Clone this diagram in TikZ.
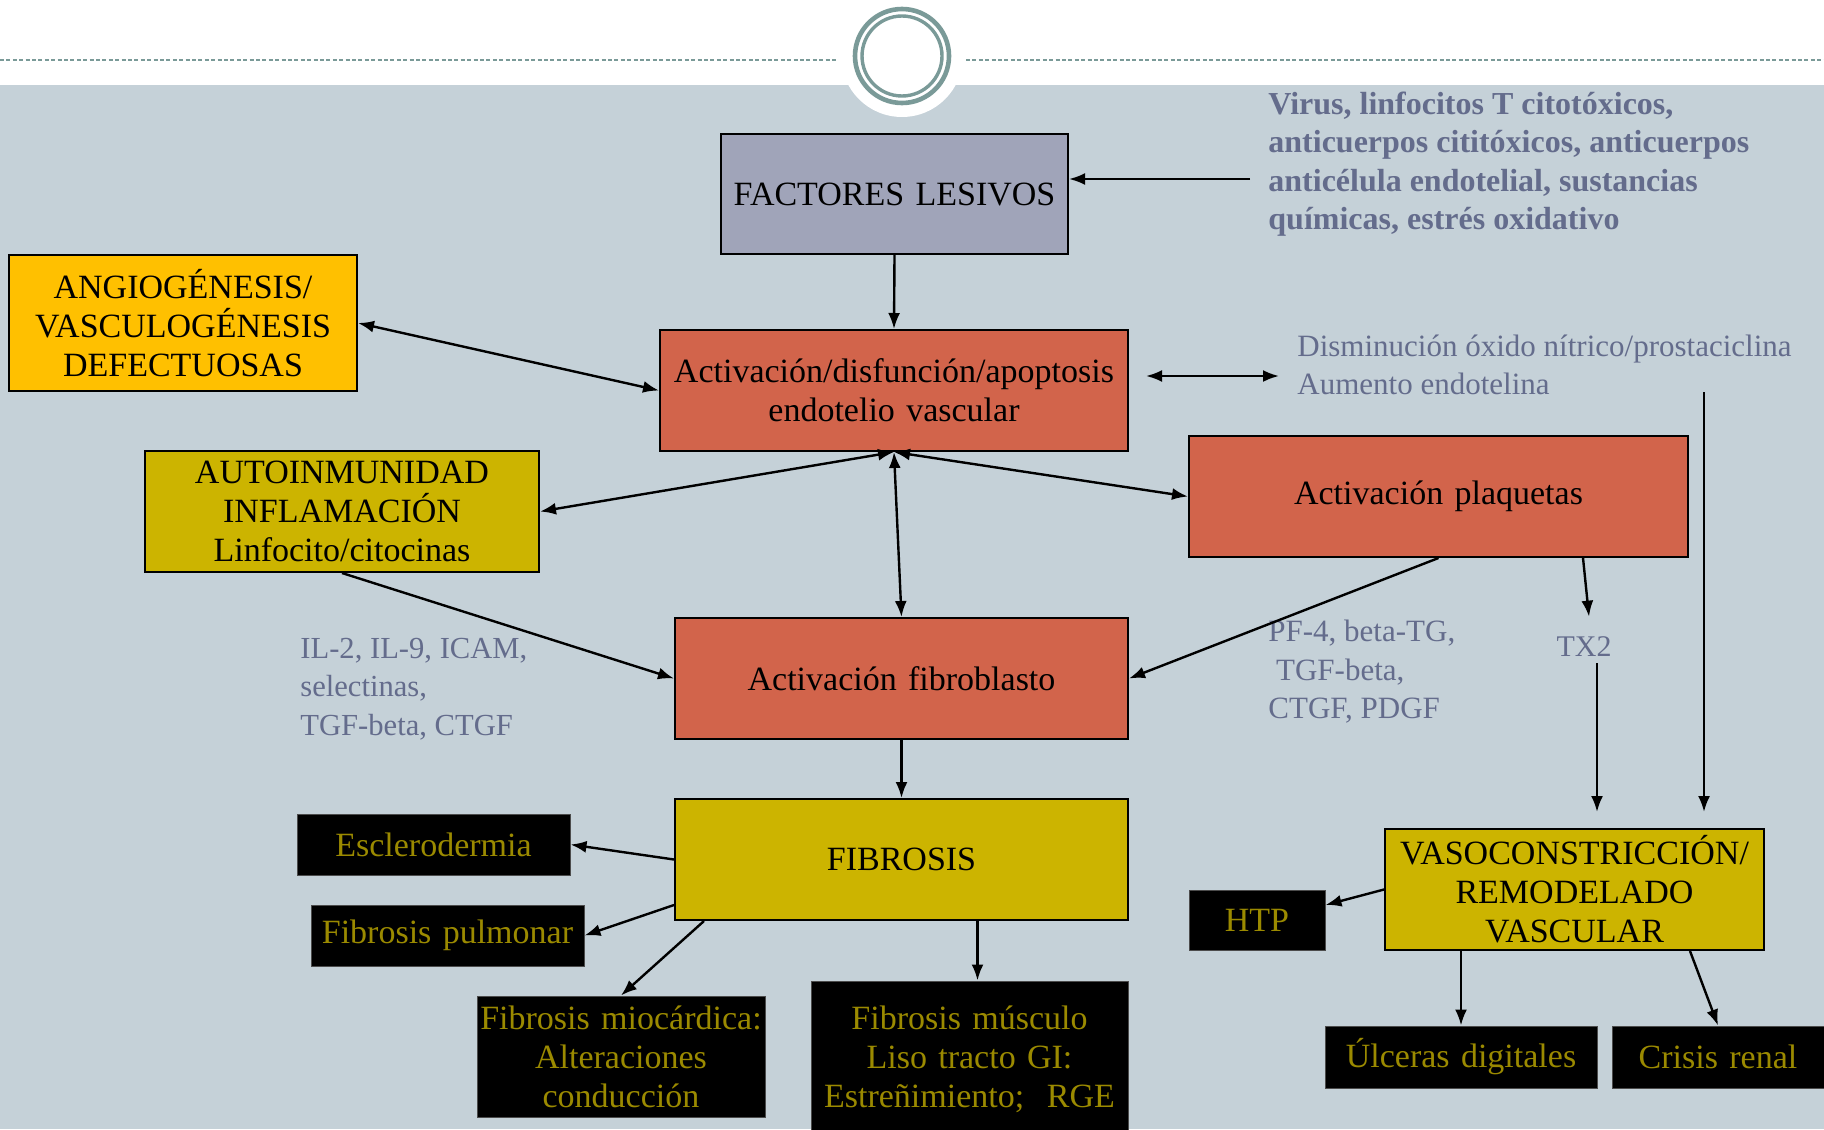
\documentclass[tikz,border=0pt]{standalone}
\usepackage{fontspec}
\setmainfont{Liberation Serif}
\usetikzlibrary{arrows.meta,calc}
\definecolor{bgc}{RGB}{197,209,216}
\definecolor{ringc}{RGB}{122,154,152}
\definecolor{lavc}{RGB}{160,164,185}
\definecolor{orgc}{RGB}{255,192,0}
\definecolor{redc}{RGB}{210,100,75}
\definecolor{olvc}{RGB}{204,180,0}
\definecolor{goldtxt}{RGB}{155,138,0}
\definecolor{greytxt}{RGB}{100,108,140}
\tikzset{
  bbox/.style={draw=black, line width=1pt, inner sep=0pt, align=center, font=\fontsize{17}{19.5}\selectfont},
  dbox/.style={fill=black, draw=black!70, line width=0.5pt, inner sep=0pt, align=center, text=goldtxt, font=\fontsize{17}{19.5}\selectfont},
  gtext/.style={text=greytxt, align=left, inner sep=0pt},
  arr/.style={-{Latex[length=8pt,width=6pt]}, line width=1.2pt},
  arrtwo/.style={{Latex[length=8pt,width=6pt]}-{Latex[length=8pt,width=6pt]}, line width=1.2pt}
}
\begin{document}
\begin{tikzpicture}[x=0.5pt,y=-0.5pt]
\useasboundingbox (0,0) rectangle (1824,1129);
% header and background
\fill[white] (0,0) rectangle (1824,85);
\fill[bgc] (0,85) rectangle (1824,1129);
\fill[white] (902,56) circle[radius=61];
\draw[ringc, line width=1pt, dash pattern=on 2pt off 1.2pt] (0,60) -- (838,60);
\draw[ringc, line width=1pt, dash pattern=on 2pt off 1.2pt] (966,60) -- (1824,60);
\draw[ringc, line width=2.3pt] (902,56) circle[radius=47];
\draw[ringc, line width=1.7pt] (902,56) circle[radius=40];

% boxes
\node[bbox, fill=lavc, minimum width=173.5pt, minimum height=60pt, text width=173.5pt] (fact) at (894.5,194) {FACTORES LESIVOS};
\node[bbox, fill=orgc, minimum width=174pt, minimum height=68pt, text width=174pt] (angio) at (183,323) {ANGIOGÉNESIS/\\VASCULOGÉNESIS\\DEFECTUOSAS};
\node[bbox, fill=redc, minimum width=234pt, minimum height=60.5pt, text width=234pt] (act) at (894,390.5) {Activación/disfunción/apoptosis\\endotelio vascular};
\node[bbox, fill=olvc, minimum width=197pt, minimum height=60.5pt, text width=197pt] (auto) at (342,511.5) {AUTOINMUNIDAD\\INFLAMACIÓN\\Linfocito/citocinas};
\node[bbox, fill=redc, minimum width=249.5pt, minimum height=60.5pt, text width=249.5pt] (plaq) at (1438.5,496.5) {Activación plaquetas};
\node[bbox, fill=redc, minimum width=226.5pt, minimum height=60.5pt, text width=226.5pt] (fibro) at (901.5,678.5) {Activación fibroblasto};
\node[bbox, fill=olvc, minimum width=226.5pt, minimum height=60.5pt, text width=226.5pt] (fibrosis) at (901.5,859.5) {FIBROSIS};
\node[bbox, fill=olvc, minimum width=189.5pt, minimum height=60.5pt, text width=189.5pt] (vaso) at (1574.5,889.5) {VASOCONSTRICCIÓN/\\REMODELADO\\VASCULAR};

\node[dbox, minimum width=136.5pt, minimum height=30.5pt, text width=136.5pt] (escl) at (433.5,844.5) {Esclerodermia};
\node[dbox, minimum width=136.5pt, minimum height=30.5pt, text width=136.5pt] (pulm) at (447.5,935.5) {Fibrosis pulmonar};
\node[dbox, minimum width=144pt, minimum height=60.5pt, text width=144pt] (mioc) at (621,1056.5) {Fibrosis miocárdica:\\Alteraciones\\conducción};
\node[dbox, minimum width=158.5pt, minimum height=78pt, text width=158.5pt] (musc) at (969.5,1059) {Fibrosis músculo\\Liso tracto GI:\\Estreñimiento;\ \ RGE};
\node[dbox, minimum width=68pt, minimum height=30pt, text width=68pt] (htp) at (1257,920) {HTP};
\node[dbox, minimum width=136pt, minimum height=31pt, text width=136pt] (ulc) at (1461,1057) {Úlceras digitales};
\node[dbox, minimum width=106pt, minimum height=31pt, text width=106pt] (cris) at (1718,1057) {Crisis renal};

% grey texts
\node[gtext, anchor=west, font=\fontsize{16}{19.2}\selectfont\bfseries] (virus) at (1268,164) {Virus, linfocitos T citotóxicos,\\anticuerpos cititóxicos, anticuerpos\\anticélula endotelial, sustancias\\químicas, estrés oxidativo};
\node[gtext, anchor=west, font=\fontsize{15.5}{19}\selectfont] (dism) at (1297,365) {Disminución óxido nítrico/prostaciclina\\Aumento endotelina};
\node[gtext, anchor=west, font=\fontsize{15.3}{19.3}\selectfont] (il) at (300,689) {IL-2, IL-9, ICAM,\\selectinas,\\TGF-beta, CTGF};
\node[gtext, anchor=west, font=\fontsize{15.5}{19.2}\selectfont] (pf) at (1268,672) {PF-4, beta-TG,\\\ TGF-beta,\\CTGF, PDGF};
\node[gtext, font=\fontsize{15}{18}\selectfont] (tx) at (1584,647) {TX2};

\coordinate (vsrc) at (1250,179);
\coordinate (dl) at (1146,376);
\coordinate (dr) at (1279,376);
\coordinate (vtop) at (1704,392);

% connectors
\draw[arr] (vsrc) -- (vsrc -| fact.east);
\draw[arr] (fact.south) -- (act.north);
\draw[arrtwo] (angio.east) -- (act.west);
\draw[arrtwo] (dl) -- (dr);
\draw[arrtwo] (auto.east) -- (act.south);
\draw[arrtwo] (act.south) -- (plaq.west);
\draw[arrtwo] (act.south) -- (fibro.north);
\draw[arr] (auto.south) -- (fibro.west);
\draw[arr] (plaq.south) -- (fibro.east);
\draw[arr] ([xshift=-53pt]plaq.south east) -- ([xshift=2.5pt,yshift=10pt]tx.north);
\draw[arr] ([xshift=6.5pt,yshift=-3pt]tx.south) -- ([xshift=11.25pt,yshift=8pt]vaso.north);
\draw[arr] (vtop) -- ([xshift=64.75pt,yshift=8pt]vaso.north);
\draw[arr] (fibro.south) -- (fibrosis.north);
\draw[arr] (fibrosis.west) -- (escl.east);
\draw[arr] ([yshift=-22.75pt]fibrosis.west) -- (pulm.east);
\draw[arr] ([xshift=15pt]fibrosis.south west) -- (mioc.north);
\draw[arr] ([xshift=38pt]fibrosis.south) -- ([xshift=38pt]fibrosis.south |- musc.north);
\draw[arr] (vaso.west) -- ([yshift=7.5pt]htp.east);
\draw[arr] (ulc.north |- vaso.south) -- (ulc.north);
\draw[arr] ([xshift=-37.5pt]vaso.south east) -- (cris.north);
\end{tikzpicture}
\end{document}
